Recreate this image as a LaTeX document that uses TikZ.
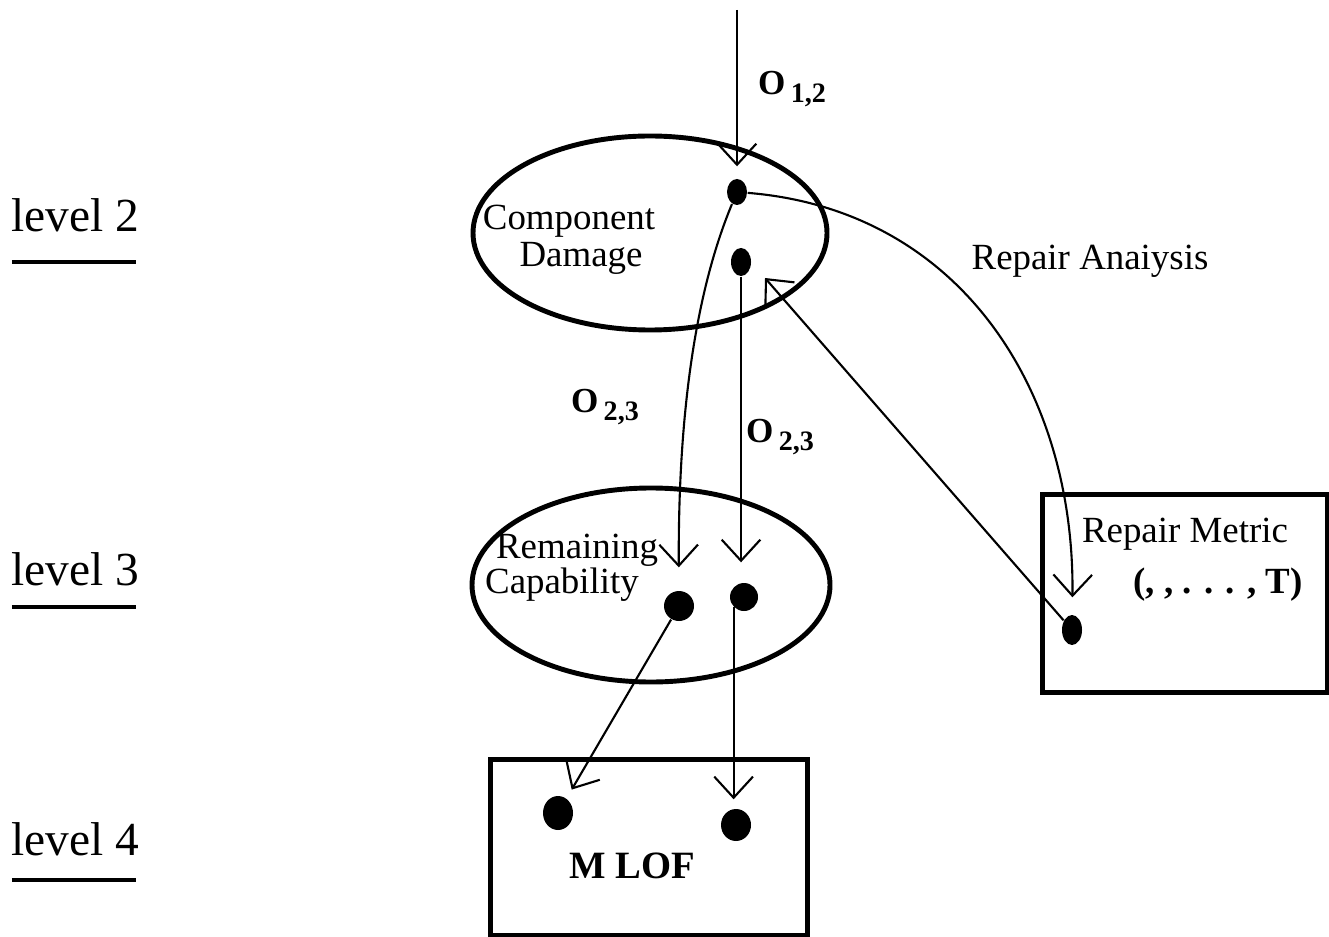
\documentclass[tikz,border=0pt]{standalone}
\usepackage{fontspec}
\setmainfont{Liberation Serif}
\usetikzlibrary{arrows.meta}
\usetikzlibrary{shapes.geometric}
\newcommand{\ordlabel}[1]{\textbf{O}\hspace{1.5pt}\raisebox{-2pt}{\fontsize{8}{9}\selectfont\bfseries #1}}
\tikzset{
  dot/.style={ellipse, fill=black, inner sep=0pt},
  blob/.style={draw, ellipse, line width=1.4pt, inner sep=0pt},
  frame/.style={draw, line width=1.4pt, inner sep=0pt, anchor=north west},
  flow/.style={line width=0.6pt, -{Straight Barb[length=6pt,width=11pt,line width=0.6pt]}},
  txt/.style={anchor=base, inner sep=0pt, font=\fontsize{10.5}{12}\selectfont},
  olabel/.style={anchor=base, inner sep=0pt, font=\fontsize{10}{11}\selectfont},
  lvl/.style={anchor=base, inner sep=0pt, font=\fontsize{13.5}{16}\selectfont},
  lvlline/.style={line width=1.4pt},
}
\begin{document}
\begin{tikzpicture}
  \useasboundingbox (0,0) rectangle (13.29,-9.36);

  \node[lvl] (lv2) at (0.75,-2.32) {level 2};
  \node[lvl] (lv3) at (0.75,-5.85) {level 3};
  \node[lvl] (lv4) at (0.75,-8.55) {level 4};
  \draw[lvlline] (0.12,-2.62) -- (1.36,-2.62);
  \draw[lvlline] (0.12,-6.07) -- (1.36,-6.07);
  \draw[lvlline] (0.12,-8.80) -- (1.36,-8.80);

  \node[blob, minimum width=3.54cm, minimum height=1.94cm] (cd) at (6.50,-2.33) {};
  \node[blob, minimum width=3.58cm, minimum height=1.94cm] (rc) at (6.51,-5.85) {};
  \node[frame, minimum width=3.17cm, minimum height=1.76cm] (lof) at (4.88,-7.57) {};
  \node[frame, minimum width=2.85cm, minimum height=1.98cm] (rm)  at (10.40,-4.92) {};

  \node[txt] (cdtop) at (5.69,-2.30) {Component};
  \node[txt] (cdbot) at (5.81,-2.67) {Damage};
  \node[txt] (rctop) at (5.77,-5.58) {Remaining};
  \node[txt] (rcbot) at (5.62,-5.93) {Capability};
  \node[txt, font=\fontsize{11}{12}\selectfont\bfseries] (loftxt) at (6.32,-8.78) {M LOF};
  \node[txt] (rmtop) at (11.85,-5.42) {Repair Metric};
  \node[txt, font=\fontsize{10.5}{12}\selectfont\bfseries] (rmbot) at (12.18,-5.93) {(, , . . . , T)};
  \node[txt] (ra) at (10.90,-2.70) {Repair Anaiysis};

  \node[olabel] (o12)  at (7.92,-0.95) {\ordlabel{1,2}};
  \node[olabel] (o23a) at (6.05,-4.13) {\ordlabel{2,3}};
  \node[olabel] (o23b) at (7.80,-4.43) {\ordlabel{2,3}};

  \node[dot, minimum width=0.20cm, minimum height=0.26cm] (a1) at (7.37,-1.92) {};
  \node[dot, minimum width=0.20cm, minimum height=0.28cm] (a2) at (7.41,-2.62) {};
  \node[dot, minimum width=0.30cm, minimum height=0.30cm] (b1) at (6.79,-6.06) {};
  \node[dot, minimum width=0.28cm, minimum height=0.28cm] (b2) at (7.44,-5.97) {};
  \node[dot, minimum width=0.30cm, minimum height=0.34cm] (c1) at (5.58,-8.13) {};
  \node[dot, minimum width=0.30cm, minimum height=0.32cm] (c2) at (7.36,-8.25) {};
  \node[dot, minimum width=0.20cm, minimum height=0.30cm] (d)  at (10.72,-6.30) {};

  \coordinate (src) at (7.37,-0.10);
  \coordinate (back) at (7.65,-2.78);

  \draw[flow, shorten >=0.12cm] (src) -- (a1);
  \draw[flow, shorten >=0.23cm] (a1) .. controls (6.92,-3.00) and (6.78,-4.30) .. (b1);
  \draw[flow, shorten >=0.20cm] (a2) -- (a2 |- b2.north);
  \draw[flow, shorten >=0.17cm] (a1) .. controls (9.60,-2.10) and (10.75,-3.90) .. (d);
  \draw[flow] (d) -- (back);
  \draw[flow, shorten >=0.10cm] (b1) -- (c1);
  \draw[flow, shorten >=0.09cm] (b2.south west) -- (b2.south west |- c2.north);
\end{tikzpicture}
\end{document}
